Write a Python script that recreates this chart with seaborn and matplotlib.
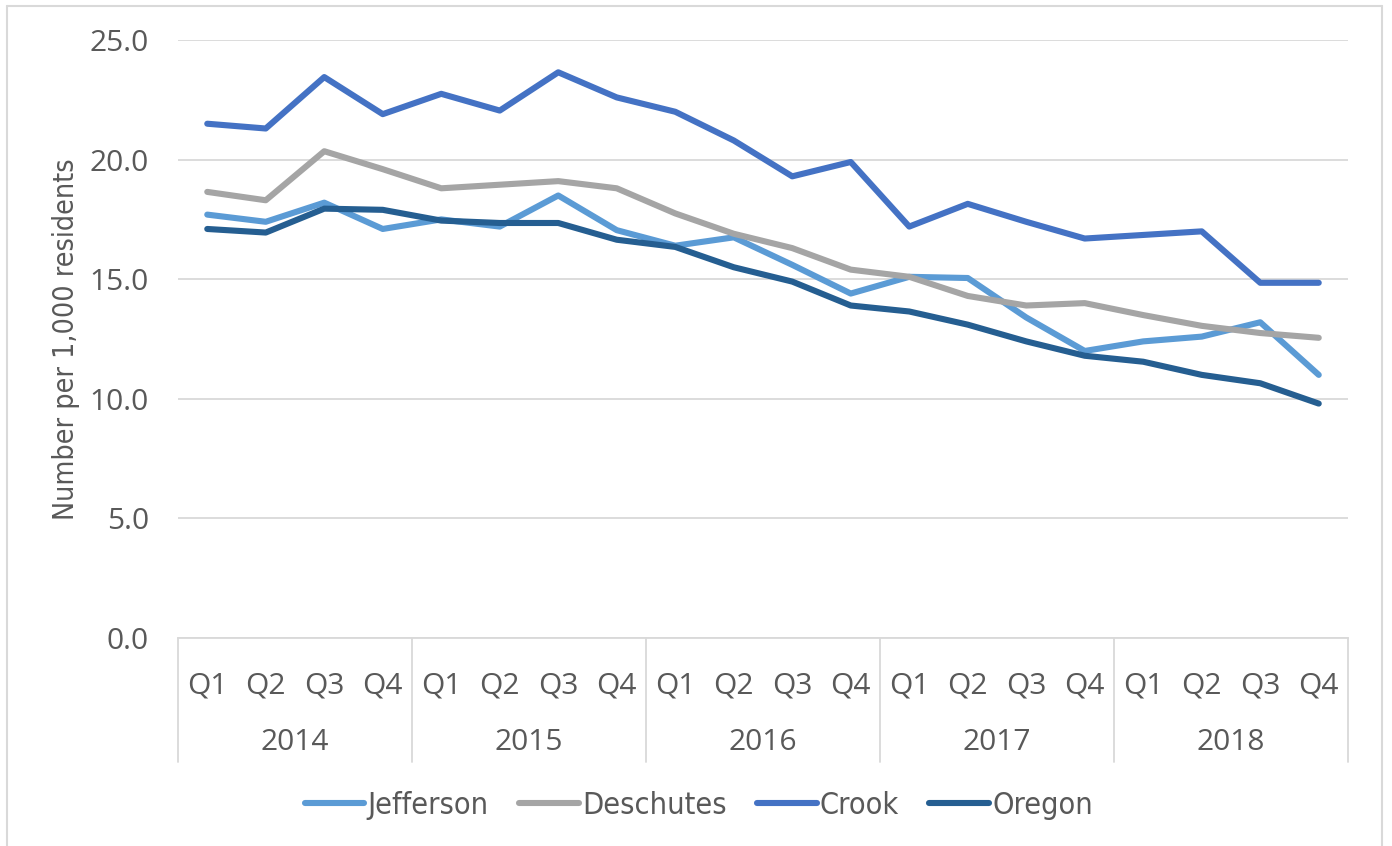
import matplotlib
matplotlib.use("Agg")
import matplotlib.pyplot as plt
import matplotlib.transforms as mtransforms
from matplotlib.lines import Line2D
import numpy as np
import pandas as pd
import seaborn as sns

years = ["2014", "2015", "2016", "2017", "2018"]
quarters = ["Q1", "Q2", "Q3", "Q4"]
counties = ["Jefferson", "Deschutes", "Crook", "Oregon"]

jefferson = [17.7, 17.4, 18.2, 17.1, 17.5, 17.2, 18.5, 17.05,
             16.4, 16.75, 15.6, 14.4, 15.1, 15.05, 13.4, 12.0,
             12.4, 12.6, 13.2, 11.0]
deschutes = [18.65, 18.3, 20.35, 19.6, 18.8, 18.95, 19.1, 18.8,
             17.75, 16.9, 16.3, 15.4, 15.1, 14.3, 13.9, 14.0,
             13.5, 13.05, 12.75, 12.55]
crook = [21.5, 21.3, 23.45, 21.9, 22.75, 22.05, 23.65, 22.6,
         22.0, 20.8, 19.3, 19.9, 17.2, 18.15, 17.4, 16.7,
         16.85, 17.0, 14.85, 14.85]
oregon = [17.1, 16.95, 17.95, 17.9, 17.45, 17.35, 17.35, 16.65,
          16.35, 15.5, 14.9, 13.9, 13.65, 13.1, 12.4, 11.8,
          11.55, 11.0, 10.65, 9.8]

palette = {"Jefferson": "#5B9BD5", "Deschutes": "#A5A5A5",
           "Crook": "#4472C4", "Oregon": "#255E91"}

n = len(years) * len(quarters)
df = pd.DataFrame({
    "idx": np.tile(np.arange(n), len(counties)),
    "county": np.repeat(counties, n),
    "value": np.concatenate([jefferson, deschutes, crook, oregon]),
})

sns.set_theme(style="white")
plt.rcParams["font.family"] = ["Open Sans", "DejaVu Sans"]
text_color = "#595959"
grid_color = "#D9D9D9"

fig = plt.figure(figsize=(13.92, 8.46), dpi=100)
W, H = 1392, 846
left, right, top, bottom = 178, 1348, 40, 638
ax = fig.add_axes([left / W, 1 - bottom / H, (right - left) / W, (bottom - top) / H])

sns.lineplot(data=df, x="idx", y="value", hue="county", hue_order=counties,
             palette=palette, linewidth=4.4, ax=ax, legend=False,
             solid_capstyle="round", solid_joinstyle="round")

ax.set_xlim(-0.5, n - 0.5)
ax.set_ylim(0, 25)
ax.set_yticks(np.arange(0, 25.1, 5))
ax.set_yticklabels([f"{v:.1f}" for v in np.arange(0, 25.1, 5)],
                   fontsize=21.5, color=text_color)
ax.tick_params(axis="y", length=0, pad=21)
ax.yaxis.grid(True, color=grid_color, linewidth=1.3)
ax.set_axisbelow(True)
for s in ["left", "right", "top"]:
    ax.spines[s].set_visible(False)
ax.spines["bottom"].set_color(grid_color)
ax.spines["bottom"].set_linewidth(1.3)

ax.set_xlabel("")
ax.set_ylabel("Number per 1,000 residents", fontsize=20.5, color=text_color,
              fontfamily="DejaVu Sans", fontstretch="condensed")
ax.yaxis.set_label_coords(-0.084, 0.5)

# two-level category axis: quarters, then years, with year dividers
ax.set_xticks(np.arange(n))
ax.set_xticklabels(quarters * len(years), fontsize=21.5, color=text_color)
ax.tick_params(axis="x", length=0, pad=24)

trans = mtransforms.blended_transform_factory(ax.transData, ax.transAxes)
axis_depth = (762 - bottom) / (bottom - top)
year_y = -(743 - bottom) / (bottom - top)
for k in range(len(years) + 1):
    xpos = k * len(quarters) - 0.5
    ax.add_line(Line2D([xpos, xpos], [0, -axis_depth], transform=trans,
                       color=grid_color, linewidth=1.3, clip_on=False))
for k, yr in enumerate(years):
    ax.text(k * len(quarters) + 1.5, year_y, yr, transform=trans,
            ha="center", va="center", fontsize=21.5, color=text_color)

# legend below the category axis
handles = [Line2D([0], [0], color=palette[c], linewidth=4.4,
                  solid_capstyle="round") for c in counties]
leg = fig.legend(handles, counties, loc="center", ncol=4,
                 bbox_to_anchor=(0.502, 1 - 805 / H), frameon=False,
                 handlelength=1.95, handletextpad=0.1, columnspacing=1.0,
                 prop={"family": "DejaVu Sans", "stretch": "condensed",
                       "size": 22})
for t in leg.get_texts():
    t.set_color(text_color)

# chart area border
bx0, by0, bx1 = 7 / W, 1 - 6 / H, 1382 / W
for xs, ys in [([bx0, bx0], [0, by0]), ([bx0, bx1], [by0, by0]), ([bx1, bx1], [by0, 0])]:
    fig.add_artist(Line2D(xs, ys, transform=fig.transFigure,
                          color=grid_color, linewidth=1.5))

fig.savefig("out.png", dpi=100, facecolor="white")
